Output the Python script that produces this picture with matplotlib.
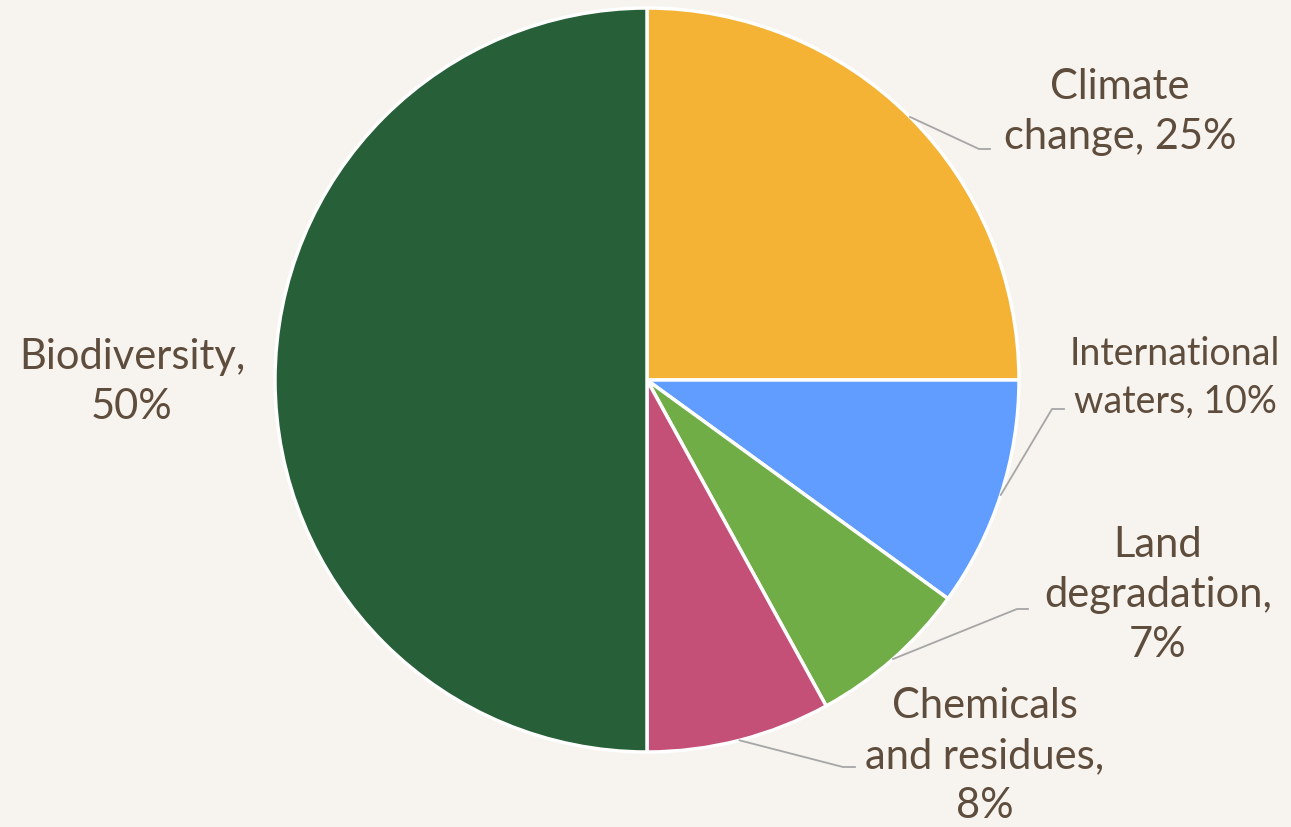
import numpy as np
import matplotlib
matplotlib.use("Agg")
import matplotlib.pyplot as plt

# ----- data -----
labels = ["Climate\nchange, 25%", "International\nwaters, 10%", "Land\ndegradation,\n7%",
          "Chemicals\nand residues,\n8%", "Biodiversity,\n50%"]
shares = [25, 10, 7, 8, 50]
colors = ["#F4B335", "#609DFF", "#70AD47", "#C45078", "#265F38"]

bg = "#F7F3EE"
txt_color = "#5E4D3C"
line_color = "#A6A6A6"

W, H = 1291, 827
fig = plt.figure(figsize=(W / 100, H / 100), dpi=100, facecolor=bg)
ax = fig.add_axes([0, 0, 1, 1])

cx, cy, r = 647, H - 380, 372
wedges, _ = ax.pie(shares, colors=colors, startangle=90, counterclock=False,
                   center=(cx, cy), radius=r, frame=True,
                   wedgeprops=dict(edgecolor="white", linewidth=2.5))
ax.set_xlim(0, W)
ax.set_ylim(0, H)
ax.set_aspect("equal")
ax.axis("off")

# label placement: (text x, text y, font size, elbow x, elbow y, end x) in pixels from top-left
label_pos = [
    (1120, 112, 30, 979, 149, 990),
    (1175, 378, 27, 1052, 409, 1064),
    (1158, 595, 30, 1017, 609, 1028),
    (985, 756, 30, 843, 767, 855),
    (132, 382, 30, None, None, None),
]

for w, lab, (tx, ty, fs, ex, ey, endx) in zip(wedges, labels, label_pos):
    ax.text(tx, H - ty, lab, ha="center", va="center", fontsize=fs,
            color=txt_color, family=["Lato", "DejaVu Sans"], linespacing=1.4)
    if ex is not None:
        mid = np.deg2rad((w.theta1 + w.theta2) / 2)
        sx = cx + r * np.cos(mid)
        sy = cy + r * np.sin(mid)
        ax.plot([sx, ex, endx], [sy, H - ey, H - ey], color=line_color, lw=1.3)

fig.savefig("out.png", dpi=100, facecolor=bg)
